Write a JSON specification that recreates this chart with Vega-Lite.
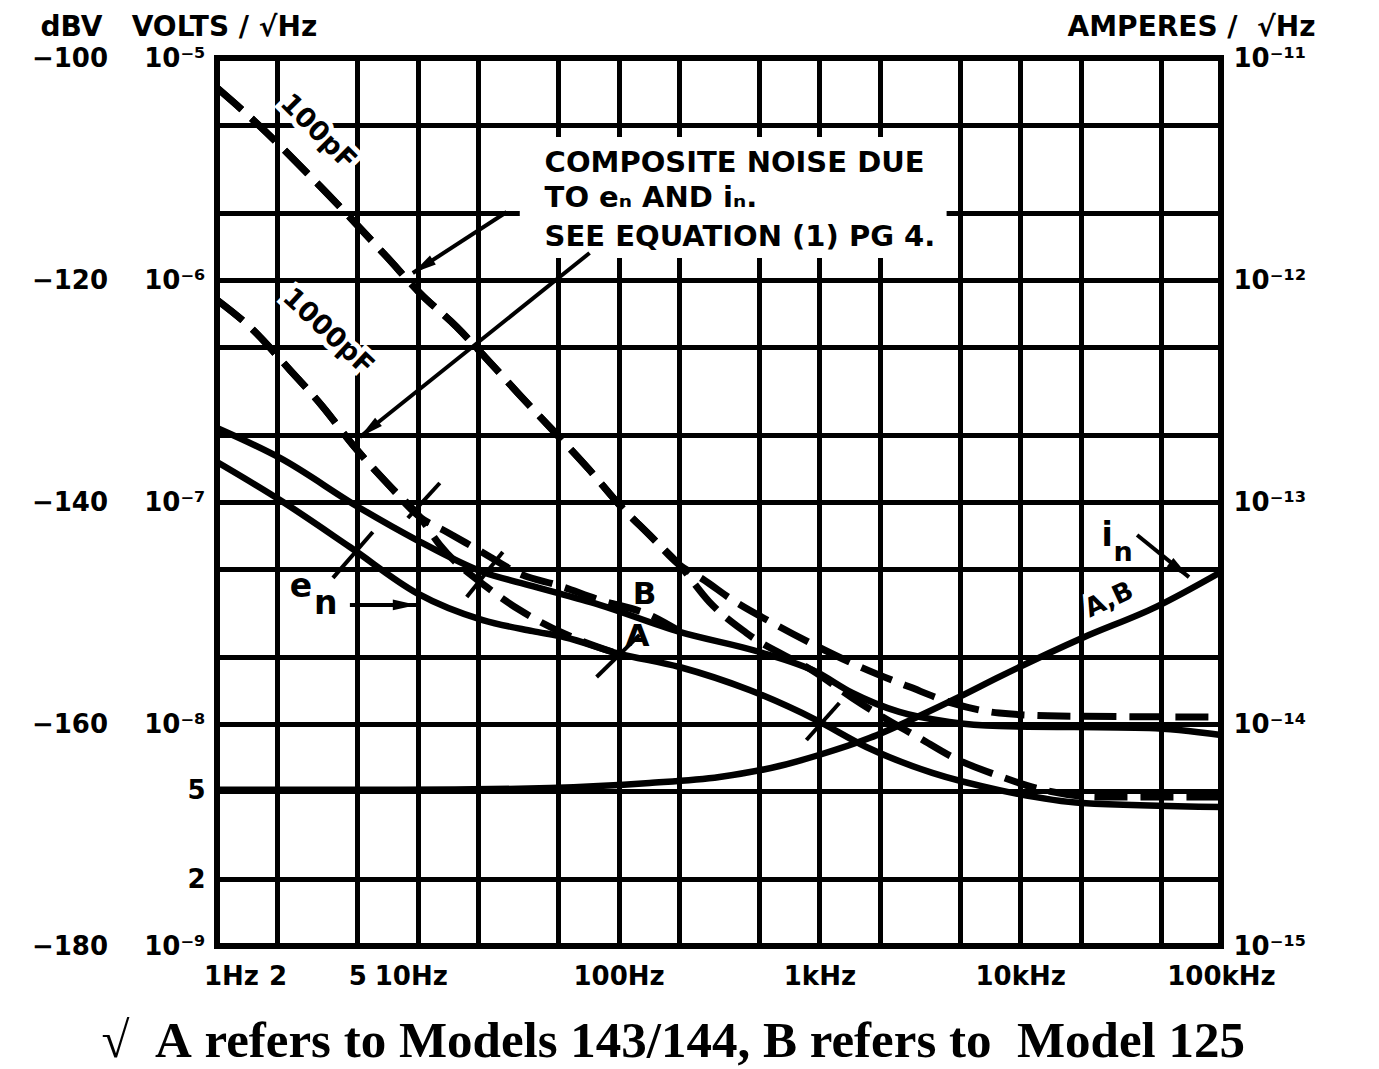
{
  "$schema": "https://vega.github.io/schema/vega-lite/v6.json",
  "width": 1004,
  "height": 888,
  "autosize": {"type": "none"},
  "padding": {"left": 217, "top": 58, "right": 158, "bottom": 123},
  "background": "white",
  "title": {
    "text": "√\u00a0\u00a0A\u00a0refers to Models 143/144, B refers to\u00a0\u00a0Model 125",
    "orient": "bottom",
    "anchor": "middle",
    "frame": "bounds",
    "font": "Liberation Serif",
    "fontSize": 51,
    "fontWeight": "bold",
    "color": "black",
    "offset": 28
  },
  "datasets": {
    "box": [{"f": 32.2, "f2": 4300, "v": 1.257e-6, "v2": 4.41e-6}],
    "dashed": [
      {"series": "100pF A", "f": 1, "v": 7.33e-6}, {"series": "100pF A", "f": 1.46, "v": 5.42e-6}, {"series": "100pF A", "f": 3.145, "v": 2.735e-6}, {"series": "100pF A", "f": 7.01, "v": 1.27e-6}, {"series": "100pF A", "f": 10.23, "v": 8.74e-7}, {"series": "100pF A", "f": 15.63, "v": 6.14e-7}, {"series": "100pF A", "f": 22.8, "v": 4.27e-7}, {"series": "100pF A", "f": 32.2, "v": 3.03e-7}, {"series": "100pF A", "f": 46.9, "v": 2.11e-7}, {"series": "100pF A", "f": 71.7, "v": 1.393e-7}, {"series": "100pF A", "f": 101.2, "v": 9.69e-8}, {"series": "100pF A", "f": 142.6, "v": 7.1e-8}, {"series": "100pF A", "f": 201.1, "v": 5.2e-8},
      {"series": "100pF A", "f": 283.6, "v": 3.54e-8}, {"series": "100pF A", "f": 433, "v": 2.57e-8}, {"series": "100pF A", "f": 966, "v": 1.697e-8}, {"series": "100pF A", "f": 1460, "v": 1.31e-8}, {"series": "100pF A", "f": 1988, "v": 1.098e-8}, {"series": "100pF A", "f": 3145, "v": 8.65e-9}, {"series": "100pF A", "f": 4588, "v": 7.1e-9}, {"series": "100pF A", "f": 7862, "v": 5.83e-9}, {"series": "100pF A", "f": 12430, "v": 5.1e-9}, {"series": "100pF A", "f": 24720, "v": 4.69e-9}, {"series": "100pF A", "f": 100000, "v": 4.69e-9},
      {"series": "100pF B", "f": 1, "v": 7.33e-6}, {"series": "100pF B", "f": 1.46, "v": 5.42e-6}, {"series": "100pF B", "f": 3.145, "v": 2.735e-6}, {"series": "100pF B", "f": 7.01, "v": 1.27e-6}, {"series": "100pF B", "f": 10.23, "v": 8.74e-7}, {"series": "100pF B", "f": 15.63, "v": 6.14e-7}, {"series": "100pF B", "f": 22.8, "v": 4.27e-7}, {"series": "100pF B", "f": 32.2, "v": 3.03e-7}, {"series": "100pF B", "f": 46.9, "v": 2.11e-7}, {"series": "100pF B", "f": 71.7, "v": 1.393e-7}, {"series": "100pF B", "f": 101.2, "v": 9.69e-8}, {"series": "100pF B", "f": 142.6, "v": 7.1e-8}, {"series": "100pF B", "f": 201.1, "v": 5.2e-8},
      {"series": "100pF B", "f": 261.7, "v": 4.5e-8}, {"series": "100pF B", "f": 369, "v": 3.62e-8}, {"series": "100pF B", "f": 611, "v": 2.79e-8}, {"series": "100pF B", "f": 990, "v": 2.22e-8}, {"series": "100pF B", "f": 1637, "v": 1.79e-8}, {"series": "100pF B", "f": 2804, "v": 1.47e-8}, {"series": "100pF B", "f": 4588, "v": 1.243e-8}, {"series": "100pF B", "f": 7862, "v": 1.12e-8}, {"series": "100pF B", "f": 15630, "v": 1.086e-8}, {"series": "100pF B", "f": 100000, "v": 1.075e-8},
      {"series": "1000pF A", "f": 1, "v": 8.13e-7}, {"series": "1000pF A", "f": 1.46, "v": 6.14e-7}, {"series": "1000pF A", "f": 2.31, "v": 3.93e-7}, {"series": "1000pF A", "f": 3.37, "v": 2.68e-7}, {"series": "1000pF A", "f": 4.75, "v": 1.806e-7}, {"series": "1000pF A", "f": 7.01, "v": 1.218e-7}, {"series": "1000pF A", "f": 10.23, "v": 8.56e-8},
      {"series": "1000pF A", "f": 12.87, "v": 6.4e-8}, {"series": "1000pF A", "f": 22.04, "v": 4.14e-8}, {"series": "1000pF A", "f": 32.2, "v": 3.26e-8}, {"series": "1000pF A", "f": 52.7, "v": 2.57e-8}, {"series": "1000pF A", "f": 93.3, "v": 2.11e-8},
      {"series": "1000pF B", "f": 1, "v": 8.13e-7}, {"series": "1000pF B", "f": 1.46, "v": 6.14e-7}, {"series": "1000pF B", "f": 2.31, "v": 3.93e-7}, {"series": "1000pF B", "f": 3.37, "v": 2.68e-7}, {"series": "1000pF B", "f": 4.75, "v": 1.806e-7}, {"series": "1000pF B", "f": 7.01, "v": 1.218e-7}, {"series": "1000pF B", "f": 10.23, "v": 8.56e-8},
      {"series": "1000pF B", "f": 13.94, "v": 7.33e-8}, {"series": "1000pF B", "f": 19.66, "v": 6.14e-8}, {"series": "1000pF B", "f": 33.3, "v": 4.69e-8}, {"series": "1000pF B", "f": 49.2, "v": 4.23e-8}, {"series": "1000pF B", "f": 80.4, "v": 3.62e-8}, {"series": "1000pF B", "f": 142.6, "v": 3.1e-8}, {"series": "1000pF B", "f": 201.1, "v": 2.62e-8}
    ],
    "solid": [
      {"series": "en B", "f": 1, "v": 2.154e-7}, {"series": "en B", "f": 2.058, "v": 1.579e-7}, {"series": "en B", "f": 5.145, "v": 9.4e-8}, {"series": "en B", "f": 9.89, "v": 6.74e-8}, {"series": "en B", "f": 21.06, "v": 4.84e-8}, {"series": "en B", "f": 37.3, "v": 4.18e-8}, {"series": "en B", "f": 80.4, "v": 3.44e-8}, {"series": "en B", "f": 201.1, "v": 2.6e-8}, {"series": "en B", "f": 503, "v": 2.11e-8}, {"series": "en B", "f": 966, "v": 1.715e-8}, {"series": "en B", "f": 1460, "v": 1.379e-8}, {"series": "en B", "f": 2500, "v": 1.133e-8}, {"series": "en B", "f": 4435, "v": 1.021e-8}, {"series": "en B", "f": 7862, "v": 9.79e-9}, {"series": "en B", "f": 43840, "v": 9.59e-9}, {"series": "en B", "f": 100000, "v": 8.92e-9},
      {"series": "en A", "f": 1, "v": 1.514e-7}, {"series": "en A", "f": 2.058, "v": 1.021e-7}, {"series": "en A", "f": 4.59, "v": 6.27e-8}, {"series": "en A", "f": 9.89, "v": 3.89e-8}, {"series": "en A", "f": 21.06, "v": 2.94e-8}, {"series": "en A", "f": 37.3, "v": 2.62e-8}, {"series": "en A", "f": 53.9, "v": 2.46e-8}, {"series": "en A", "f": 97.7, "v": 2.088e-8}, {"series": "en A", "f": 201.1, "v": 1.806e-8}, {"series": "en A", "f": 448.4, "v": 1.422e-8}, {"series": "en A", "f": 966, "v": 1.042e-8}, {"series": "en A", "f": 1713, "v": 7.88e-9}, {"series": "en A", "f": 3650, "v": 6.02e-9}, {"series": "en A", "f": 7862, "v": 5.04e-9}, {"series": "en A", "f": 20350, "v": 4.41e-9}, {"series": "en A", "f": 100000, "v": 4.23e-9}
    ],
    "inoise": [
      {"f": 1, "a": 5.05e-15}, {"f": 8.13, "a": 5.05e-15}, {"f": 45.4, "a": 5.15e-15}, {"f": 142.6, "a": 5.42e-15}, {"f": 318, "a": 5.77e-15}, {"f": 632, "a": 6.47e-15}, {"f": 995, "a": 7.25e-15}, {"f": 1774, "a": 8.64e-15}, {"f": 3145, "a": 1.087e-14}, {"f": 4972, "a": 1.324e-14}, {"f": 7862, "a": 1.63e-14}, {"f": 20350, "a": 2.44e-14}, {"f": 47530, "a": 3.37e-14}, {"f": 100000, "a": 4.84e-14}
    ],
    "arrows": [
      {"f1": 27.7, "v1": 2.025e-6, "f2": 9.44, "v2": 1.075e-6},
      {"f1": 71.7, "v1": 1.323e-6, "f2": 5.145, "v2": 1.963e-7},
      {"f1": 4.59, "v1": 3.44e-8, "f2": 9.89, "v2": 3.44e-8},
      {"f1": 3.78, "v1": 4.55e-8, "f2": 5.97, "v2": 7.33e-8},
      {"f1": 38200, "v1": 7.1e-8, "f2": 69300, "v2": 4.59e-8}
    ],
    "heads": [
      {"f": 9.44, "v": 1.075e-6, "heading": 237},
      {"f": 5.145, "v": 1.963e-7, "heading": 231},
      {"f": 9.89, "v": 3.44e-8, "heading": 90},
      {"f": 69300, "v": 4.59e-8, "heading": 128}
    ],
    "ticks": [
      {"f1": 8.92, "v1": 8.47e-8, "f2": 12.87, "v2": 1.218e-7},
      {"f1": 17.53, "v1": 3.73e-8, "f2": 26.5, "v2": 5.95e-8},
      {"f1": 77.7, "v1": 1.628e-8, "f2": 127.2, "v2": 2.52e-8},
      {"f1": 861.6, "v1": 8.47e-9, "f2": 1257, "v2": 1.243e-8}
    ],
    "l100": [{"t": "100pF", "f": 3.18, "v": 4.64e-6}],
    "l1000": [{"t": "1000pF", "f": 3.57, "v": 5.83e-7}],
    "lAB": [{"t": "A,B", "f": 27720, "v": 3.62e-8}],
    "lMid": [{"t": "B", "f": 134.7, "v": 3.81e-8}, {"t": "A", "f": 124.3, "v": 2.46e-8}],
    "lBig": [{"t": "e", "f": 2.62, "v": 4.12e-8}, {"t": "n", "f": 3.48, "v": 3.48e-8}, {"t": "i", "f": 27090, "v": 7.03e-8}],
    "lSmall": [{"t": "n", "f": 32540, "v": 5.89e-8}],
    "composite": [
      {"t": "COMPOSITE NOISE DUE", "f": 42.8, "v": 3.37e-6},
      {"t": "TO eₙ AND iₙ.", "f": 42.8, "v": 2.34e-6},
      {"t": "SEE EQUATION (1) PG 4.", "f": 42.8, "v": 1.562e-6}
    ]
  },
  "layer": [
    {
      "data": {"name": "box"},
      "mark": {"type": "rect", "fill": "white"},
      "encoding": {
        "x": {
          "field": "f", "type": "quantitative",
          "scale": {"type": "log", "domain": [1, 100000]},
          "axis": {
            "values": [1, 2, 5, 10, 20, 50, 100, 200, 500, 1000, 2000, 5000, 10000, 20000, 50000, 100000],
            "labelExpr": "datum.value == 1 ? '1Hz' : datum.value == 2 ? '2' : datum.value == 5 ? '5' : datum.value == 10 ? '10Hz' : datum.value == 100 ? '100Hz' : datum.value == 1000 ? '1kHz' : datum.value == 10000 ? '10kHz' : datum.value == 100000 ? '100kHz' : ''",
            "grid": true, "gridColor": "black", "gridOpacity": 1, "gridWidth": 5,
            "domain": false, "ticks": false,
            "labelFont": "DejaVu Sans", "labelFontWeight": "bold", "labelFontSize": 26, "labelColor": "black",
            "labelPadding": 17, "labelFlush": false, "labelOverlap": false,
            "labelOffset": {"condition": [{"test": "datum.value == 1", "value": 14}, {"test": "datum.value == 10", "value": -7}], "value": 0},
            "title": null
          }
        },
        "x2": {"field": "f2"},
        "y": {
          "field": "v", "type": "quantitative",
          "scale": {"type": "log", "domain": [1e-9, 1e-5]},
          "axis": {
            "values": [1e-9, 2e-9, 5e-9, 1e-8, 2e-8, 5e-8, 1e-7, 2e-7, 5e-7, 1e-6, 2e-6, 5e-6, 1e-5],
            "labelExpr": "datum.value < 0.0000000015 ? '−180\u00a0\u00a0\u00a0\u00a010⁻⁹' : datum.value < 0.000000003 ? '2' : datum.value < 0.000000007 ? '5' : datum.value < 0.000000015 ? '−160\u00a0\u00a0\u00a0\u00a010⁻⁸' : datum.value < 0.00000007 ? '' : datum.value < 0.00000015 ? '−140\u00a0\u00a0\u00a0\u00a010⁻⁷' : datum.value < 0.0000007 ? '' : datum.value < 0.0000015 ? '−120\u00a0\u00a0\u00a0\u00a010⁻⁶' : datum.value < 0.000007 ? '' : '−100\u00a0\u00a0\u00a0\u00a010⁻⁵'",
            "grid": true, "gridColor": "black", "gridOpacity": 1, "gridWidth": 5,
            "domain": false, "ticks": false,
            "labelFont": "DejaVu Sans", "labelFontWeight": "bold", "labelFontSize": 26, "labelColor": "black",
            "labelPadding": 12, "labelOverlap": false, "labelBaseline": "middle",
            "title": "dBV\u00a0\u00a0\u00a0VOLTS / √Hz",
            "titleAngle": 0, "titleAlign": "left", "titleBaseline": "middle",
            "titleX": -177, "titleY": -31,
            "titleFont": "DejaVu Sans", "titleFontWeight": "bold", "titleFontSize": 28, "titleColor": "black"
          }
        },
        "y2": {"field": "v2"}
      }
    },
    {
      "data": {"name": "l100"},
      "mark": {"type": "text", "font": "DejaVu Sans", "fontWeight": "bold", "fontSize": 27, "angle": 45, "align": "center", "baseline": "middle", "fill": "white", "stroke": "white", "strokeWidth": 10},
      "encoding": {
        "x": {"field": "f", "type": "quantitative", "scale": {"type": "log", "domain": [1, 100000]}},
        "y": {"field": "v", "type": "quantitative", "scale": {"type": "log", "domain": [1e-9, 1e-5]}, "axis": null},
        "text": {"field": "t"}
      }
    },
    {
      "data": {"name": "l1000"},
      "mark": {"type": "text", "font": "DejaVu Sans", "fontWeight": "bold", "fontSize": 27, "angle": 43, "align": "center", "baseline": "middle", "fill": "white", "stroke": "white", "strokeWidth": 10},
      "encoding": {
        "x": {"field": "f", "type": "quantitative", "scale": {"type": "log", "domain": [1, 100000]}},
        "y": {"field": "v", "type": "quantitative", "scale": {"type": "log", "domain": [1e-9, 1e-5]}, "axis": null},
        "text": {"field": "t"}
      }
    },
    {
      "data": {"name": "lAB"},
      "mark": {"type": "text", "font": "DejaVu Sans", "fontWeight": "bold", "fontSize": 26, "angle": -25, "align": "center", "baseline": "middle", "fill": "white", "stroke": "white", "strokeWidth": 10},
      "encoding": {
        "x": {"field": "f", "type": "quantitative", "scale": {"type": "log", "domain": [1, 100000]}},
        "y": {"field": "v", "type": "quantitative", "scale": {"type": "log", "domain": [1e-9, 1e-5]}, "axis": null},
        "text": {"field": "t"}
      }
    },
    {
      "data": {"name": "solid"},
      "mark": {"type": "line", "color": "black", "strokeWidth": 6.5, "strokeCap": "butt", "interpolate": "monotone"},
      "encoding": {
        "x": {"field": "f", "type": "quantitative", "scale": {"type": "log", "domain": [1, 100000]}},
        "y": {"field": "v", "type": "quantitative", "scale": {"type": "log", "domain": [1e-9, 1e-5]}, "axis": null},
        "detail": {"field": "series"}
      }
    },
    {
      "data": {"name": "dashed"},
      "mark": {"type": "line", "color": "black", "strokeWidth": 7, "strokeCap": "butt", "strokeDash": [33, 13], "interpolate": "monotone"},
      "encoding": {
        "x": {"field": "f", "type": "quantitative", "scale": {"type": "log", "domain": [1, 100000]}},
        "y": {"field": "v", "type": "quantitative", "scale": {"type": "log", "domain": [1e-9, 1e-5]}, "axis": null},
        "detail": {"field": "series"}
      }
    },
    {
      "data": {"name": "arrows"},
      "mark": {"type": "rule", "color": "black", "strokeWidth": 4},
      "encoding": {
        "x": {"field": "f1", "type": "quantitative", "scale": {"type": "log", "domain": [1, 100000]}},
        "y": {"field": "v1", "type": "quantitative", "scale": {"type": "log", "domain": [1e-9, 1e-5]}, "axis": null},
        "x2": {"field": "f2"},
        "y2": {"field": "v2"}
      }
    },
    {
      "data": {"name": "ticks"},
      "mark": {"type": "rule", "color": "black", "strokeWidth": 4},
      "encoding": {
        "x": {"field": "f1", "type": "quantitative", "scale": {"type": "log", "domain": [1, 100000]}},
        "y": {"field": "v1", "type": "quantitative", "scale": {"type": "log", "domain": [1e-9, 1e-5]}, "axis": null},
        "x2": {"field": "f2"},
        "y2": {"field": "v2"}
      }
    },
    {
      "data": {"name": "heads"},
      "mark": {"type": "point", "shape": "M0,0L0.45,2L-0.45,2Z", "filled": true, "color": "black", "opacity": 1, "size": 576},
      "encoding": {
        "x": {"field": "f", "type": "quantitative", "scale": {"type": "log", "domain": [1, 100000]}},
        "y": {"field": "v", "type": "quantitative", "scale": {"type": "log", "domain": [1e-9, 1e-5]}, "axis": null},
        "angle": {"field": "heading", "type": "quantitative", "scale": null}
      }
    },
    {
      "data": {"name": "l100"},
      "mark": {"type": "text", "font": "DejaVu Sans", "fontWeight": "bold", "fontSize": 27, "angle": 45, "align": "center", "baseline": "middle", "color": "black"},
      "encoding": {
        "x": {"field": "f", "type": "quantitative", "scale": {"type": "log", "domain": [1, 100000]}},
        "y": {"field": "v", "type": "quantitative", "scale": {"type": "log", "domain": [1e-9, 1e-5]}, "axis": null},
        "text": {"field": "t"}
      }
    },
    {
      "data": {"name": "l1000"},
      "mark": {"type": "text", "font": "DejaVu Sans", "fontWeight": "bold", "fontSize": 27, "angle": 43, "align": "center", "baseline": "middle", "color": "black"},
      "encoding": {
        "x": {"field": "f", "type": "quantitative", "scale": {"type": "log", "domain": [1, 100000]}},
        "y": {"field": "v", "type": "quantitative", "scale": {"type": "log", "domain": [1e-9, 1e-5]}, "axis": null},
        "text": {"field": "t"}
      }
    },
    {
      "data": {"name": "lAB"},
      "mark": {"type": "text", "font": "DejaVu Sans", "fontWeight": "bold", "fontSize": 26, "angle": -25, "align": "center", "baseline": "middle", "color": "black"},
      "encoding": {
        "x": {"field": "f", "type": "quantitative", "scale": {"type": "log", "domain": [1, 100000]}},
        "y": {"field": "v", "type": "quantitative", "scale": {"type": "log", "domain": [1e-9, 1e-5]}, "axis": null},
        "text": {"field": "t"}
      }
    },
    {
      "data": {"name": "lMid"},
      "mark": {"type": "text", "font": "DejaVu Sans", "fontWeight": "bold", "fontSize": 31, "align": "center", "baseline": "middle", "color": "black"},
      "encoding": {
        "x": {"field": "f", "type": "quantitative", "scale": {"type": "log", "domain": [1, 100000]}},
        "y": {"field": "v", "type": "quantitative", "scale": {"type": "log", "domain": [1e-9, 1e-5]}, "axis": null},
        "text": {"field": "t"}
      }
    },
    {
      "data": {"name": "lBig"},
      "mark": {"type": "text", "font": "DejaVu Sans", "fontWeight": "bold", "fontSize": 33, "align": "center", "baseline": "middle", "color": "black"},
      "encoding": {
        "x": {"field": "f", "type": "quantitative", "scale": {"type": "log", "domain": [1, 100000]}},
        "y": {"field": "v", "type": "quantitative", "scale": {"type": "log", "domain": [1e-9, 1e-5]}, "axis": null},
        "text": {"field": "t"}
      }
    },
    {
      "data": {"name": "lSmall"},
      "mark": {"type": "text", "font": "DejaVu Sans", "fontWeight": "bold", "fontSize": 27, "align": "center", "baseline": "middle", "color": "black"},
      "encoding": {
        "x": {"field": "f", "type": "quantitative", "scale": {"type": "log", "domain": [1, 100000]}},
        "y": {"field": "v", "type": "quantitative", "scale": {"type": "log", "domain": [1e-9, 1e-5]}, "axis": null},
        "text": {"field": "t"}
      }
    },
    {
      "data": {"name": "composite"},
      "mark": {"type": "text", "font": "DejaVu Sans", "fontWeight": "bold", "fontSize": 29, "align": "left", "baseline": "middle", "color": "black"},
      "encoding": {
        "x": {"field": "f", "type": "quantitative", "scale": {"type": "log", "domain": [1, 100000]}},
        "y": {"field": "v", "type": "quantitative", "scale": {"type": "log", "domain": [1e-9, 1e-5]}, "axis": null},
        "text": {"field": "t"}
      }
    },
    {
      "data": {"name": "inoise"},
      "mark": {"type": "line", "color": "black", "strokeWidth": 6.5, "strokeCap": "butt", "interpolate": "monotone"},
      "encoding": {
        "x": {"field": "f", "type": "quantitative", "scale": {"type": "log", "domain": [1, 100000]}},
        "y": {
          "field": "a", "type": "quantitative",
          "scale": {"type": "log", "domain": [1e-15, 1e-11]},
          "axis": {
            "orient": "right",
            "values": [1e-15, 1e-14, 1e-13, 1e-12, 1e-11],
            "labelExpr": "datum.value < 0.000000000000003 ? '10⁻¹⁵' : datum.value < 0.00000000000003 ? '10⁻¹⁴' : datum.value < 0.0000000000003 ? '10⁻¹³' : datum.value < 0.000000000003 ? '10⁻¹²' : '10⁻¹¹'",
            "grid": false, "domain": false, "ticks": false,
            "labelFont": "DejaVu Sans", "labelFontWeight": "bold", "labelFontSize": 26, "labelColor": "black",
            "labelPadding": 12, "labelOverlap": false, "labelBaseline": "middle",
            "title": "AMPERES /\u00a0\u00a0√Hz",
            "titleAngle": 0, "titleAlign": "right", "titleBaseline": "middle",
            "titleX": 94, "titleY": -31,
            "titleFont": "DejaVu Sans", "titleFontWeight": "bold", "titleFontSize": 28, "titleColor": "black"
          }
        }
      }
    }
  ],
  "resolve": {"scale": {"y": "independent"}},
  "config": {
    "view": {"stroke": "black", "strokeWidth": 6}
  }
}
